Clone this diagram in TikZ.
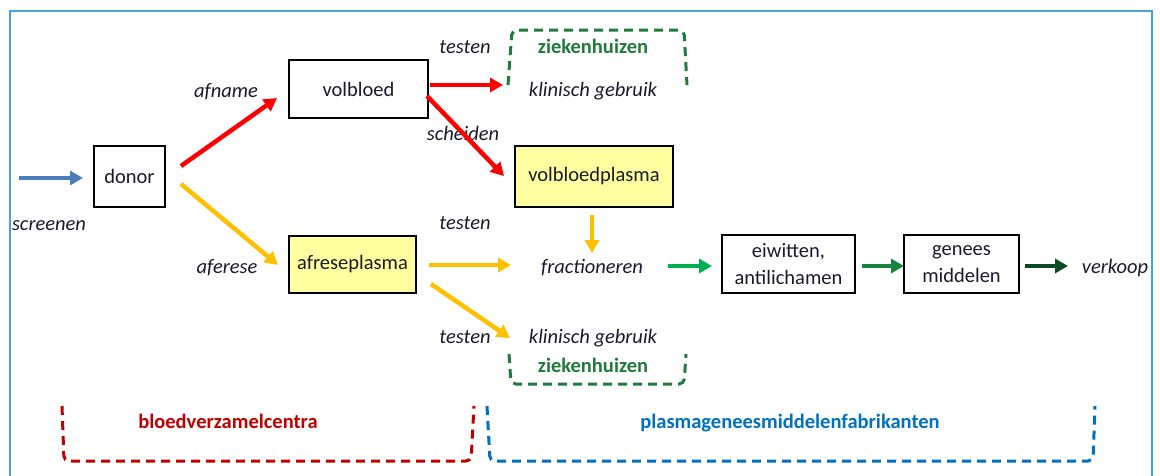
\documentclass[tikz,border=0pt]{standalone}
\usepackage{fontspec}
\setmainfont{Carlito}
\usetikzlibrary{arrows.meta}
\definecolor{txt}{HTML}{1A1A2A}
\definecolor{frame}{HTML}{45A2DA}
\definecolor{aRed}{HTML}{FF0000}
\definecolor{aYel}{HTML}{FFC000}
\definecolor{aBlue}{HTML}{4A7EBB}
\definecolor{aG1}{HTML}{00B050}
\definecolor{aG2}{HTML}{16843F}
\definecolor{aG3}{HTML}{0B4A22}
\definecolor{dGreen}{HTML}{1E7B3A}
\definecolor{dRed}{HTML}{C00000}
\definecolor{dBlue}{HTML}{0070C0}
\definecolor{boxYel}{HTML}{FFFF9F}
\tikzset{
  x=1pt, y=-1pt,
  every node/.style={font=\fontsize{20.5}{27}\selectfont, text=txt},
  procbox/.style={draw=black, line width=1.8pt, inner sep=0pt, align=center},
  yelbox/.style={procbox, fill=boxYel},
  lbl/.style={anchor=base, font=\fontsize{20.5}{27}\selectfont\itshape},
  grp/.style={anchor=base, font=\fontsize{20.5}{27}\selectfont\bfseries},
  arr/.style={line width=4.5pt, -{Triangle[length=13pt,width=14pt]}},
  brk/.style={line width=3pt, dash pattern=on 9pt off 6pt, rounded corners=5pt},
}
\begin{document}
\begin{tikzpicture}
\useasboundingbox (0,0) rectangle (1160,475);
% outer frame
\draw[frame, line width=1.5pt] (10,480) -- (10,11) -- (1152,11) -- (1152,480);

% boxes
\node[procbox, minimum width=71pt, minimum height=61pt] (donor) at (129.5,176.5) {donor};
\node[procbox, minimum width=139pt, minimum height=58pt] (volbloed) at (358.5,89) {volbloed};
\node[yelbox, minimum width=127pt, minimum height=57pt] (afrese) at (352.5,264.5) {afreseplasma};
\node[yelbox, minimum width=158pt, minimum height=61pt] (vbplasma) at (594,176.5) {volbloedplasma};
\node[procbox, minimum width=133pt, minimum height=58pt] (eiwit) at (788.5,264) {eiwitten,\\antilichamen};
\node[procbox, minimum width=115pt, minimum height=58pt] (genees) at (961.5,264) {genees\\middelen};

% labels
\node[lbl] (screenen) at (49,230) {screenen};
\node[lbl] (afname) at (226,97) {afname};
\node[lbl] (aferese) at (227,273) {aferese};
\node[lbl] (testen1) at (465,53) {testen};
\node[lbl] (scheiden) at (463,140) {scheiden};
\node[lbl] (testen2) at (465,229) {testen};
\node[lbl] (testen3) at (465,343) {testen};
\node[lbl] (klin1) at (593,96) {klinisch gebruik};
\node[lbl] (klin2) at (593,343) {klinisch gebruik};
\node[lbl] (fract) at (592,273) {fractioneren};
\node[lbl] (verkoop) at (1115,273) {verkoop};
\node[grp, text=dGreen] (zh1) at (593,53) {ziekenhuizen};
\node[grp, text=dGreen] (zh2) at (593,372) {ziekenhuizen};
\node[grp, text=dRed] (bvc) at (228,428) {bloedverzamelcentra};
\node[grp, text=dBlue] (pgf) at (790,428) {plasmageneesmiddelenfabrikanten};

% arrow end points
\coordinate (s0) at (19,178);   \coordinate (s1) at (83,178);
\coordinate (r0) at (181,166);  \coordinate (r1) at (277,98);
\coordinate (y0) at (181,184);  \coordinate (y1) at (278,265);
\coordinate (r2) at (430,85);   \coordinate (r3) at (503,85);
\coordinate (r4) at (427,96);   \coordinate (r5) at (504,176);
\coordinate (y2) at (592,215);  \coordinate (y3) at (592,253);
\coordinate (y4) at (429,265);  \coordinate (y5) at (511,265);
\coordinate (y6) at (431,284);  \coordinate (y7) at (510,338);
\coordinate (g0) at (668,266);  \coordinate (g1) at (712,266);
\coordinate (g2) at (862,266);  \coordinate (g3) at (904,266);
\coordinate (g4) at (1025,266); \coordinate (g5) at (1068,266);

% arrows
\draw[arr, aBlue, line width=4pt] (s0) -- (s1);
\draw[arr, aRed] (r0) -- (r1);
\draw[arr, aYel] (y0) -- (y1);
\draw[arr, aRed] (r2) -- (r3);
\draw[arr, aRed] (r4) -- (r5);
\draw[arr, aYel] (y2) -- (y3);
\draw[arr, aYel] (y4) -- (y5);
\draw[arr, aYel] (y6) -- (y7);
\draw[arr, aG1] (g0) -- (g1);
\draw[arr, aG2] (g2) -- (g3);
\draw[arr, aG3] (g4) -- (g5);

% dashed brackets
\draw[brk, dGreen] (508,85) -- (512,30) -- (684,30) -- (687,85);
\draw[brk, dGreen] (509,354) -- (511,384) -- (684,384) -- (686,354);
\draw[brk, dRed] (62,406) -- (64,461) -- (471,461) -- (474,406);
\draw[brk, dBlue] (487,406) -- (490,461) -- (1093,461) -- (1095,406);
\end{tikzpicture}
\end{document}
